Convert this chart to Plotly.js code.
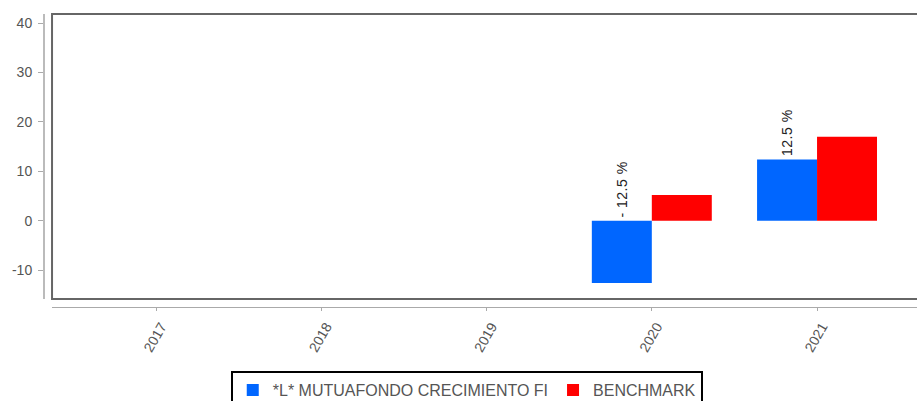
<!DOCTYPE html>
<html>
<head>
<meta charset="utf-8">
<script src="https://cdn.plot.ly/plotly-3.0.1.min.js"></script>
<style>
html,body{margin:0;padding:0;background:#fff;overflow:hidden;}
#chart{width:917px;height:401px;}
#chart .annotation-text{letter-spacing:0.5px;}
</style>
</head>
<body>
<div id="chart"></div>
<script>
const categories = ['2017', '2018', '2019', '2020', '2021'];
const fundName = '*L* MUTUAFONDO CRECIMIENTO FI';
const benchName = 'BENCHMARK';
const fundValues = [null, null, null, -12.6, 12.4];
const benchValues = [null, null, null, 5.2, 17.0];
const fundLabels = [null, null, null, '- 12.5 %', '12.5 %'];
const yTicks = [-10, 0, 10, 20, 30, 40];

const bargap = 0.274;
const barOffset = -(1 - bargap) / 4;

const annotations = [];
fundValues.forEach((v, i) => {
  if (v === null || fundLabels[i] === null) return;
  annotations.push({
    x: i + barOffset, y: Math.max(v, 0), xref: 'x', yref: 'y',
    text: fundLabels[i], showarrow: false, textangle: -90,
    xanchor: 'center', yanchor: 'bottom', yshift: 3,
    font: {family: 'Liberation Sans, Arial, sans-serif', size: 14, color: '#222'}
  });
});

const traces = [
  {type: 'bar', name: fundName, x: categories, y: fundValues,
   marker: {color: '#0066ff'}, hoverinfo: 'none'},
  {type: 'bar', name: benchName, x: categories, y: benchValues,
   marker: {color: '#ff0000'}, hoverinfo: 'none'}
];

const layout = {
  width: 917, height: 401,
  margin: {l: 44, r: 0, t: 14, b: 94, pad: 0},
  paper_bgcolor: '#fff', plot_bgcolor: '#fff',
  font: {family: 'Liberation Sans, Arial, sans-serif', size: 14, color: '#555'},
  barmode: 'group', bargap: bargap, bargroupgap: 0,
  showlegend: true,
  legend: {
    orientation: 'h', xref: 'container', yref: 'container',
    x: 0.509, xanchor: 'center', y: 0.0748, yanchor: 'top',
    bordercolor: '#000', borderwidth: 2, bgcolor: '#fff',
    font: {size: 16, color: '#555'}, itemclick: false, itemdoubleclick: false
  },
  xaxis: {
    type: 'category', domain: [0.0092, 1], range: [-0.63, 4.605],
    anchor: 'free', position: 0,
    showline: true, linecolor: '#aaa', linewidth: 1,
    ticks: 'outside', ticklen: 3, tickcolor: '#aaa',
    tickangle: -60, ticklabelshift: 5, ticklabelstandoff: 2,
    showgrid: false, zeroline: false, automargin: false,
    tickfont: {size: 14, color: '#555'}
  },
  yaxis: {
    domain: [0.0273, 1], range: [-15.85, 41.85],
    anchor: 'free', position: 0,
    tickvals: yTicks, ticktext: yTicks.map(String),
    showline: true, linecolor: '#bbb', linewidth: 2,
    ticks: 'outside', ticklen: 5, tickcolor: '#aaa', ticklabelstandoff: 3,
    showgrid: false, zeroline: false, automargin: false,
    tickfont: {size: 14, color: '#555'}
  },
  shapes: [{
    type: 'rect', xref: 'x domain', yref: 'y domain',
    x0: 0, x1: 1.02, y0: 0, y1: 1,
    line: {color: '#666', width: 2}, fillcolor: 'rgba(0,0,0,0)', layer: 'above'
  }],
  annotations: annotations
};

Plotly.newPlot('chart', traces, layout, {displayModeBar: false, staticPlot: true});
</script>
</body>
</html>
